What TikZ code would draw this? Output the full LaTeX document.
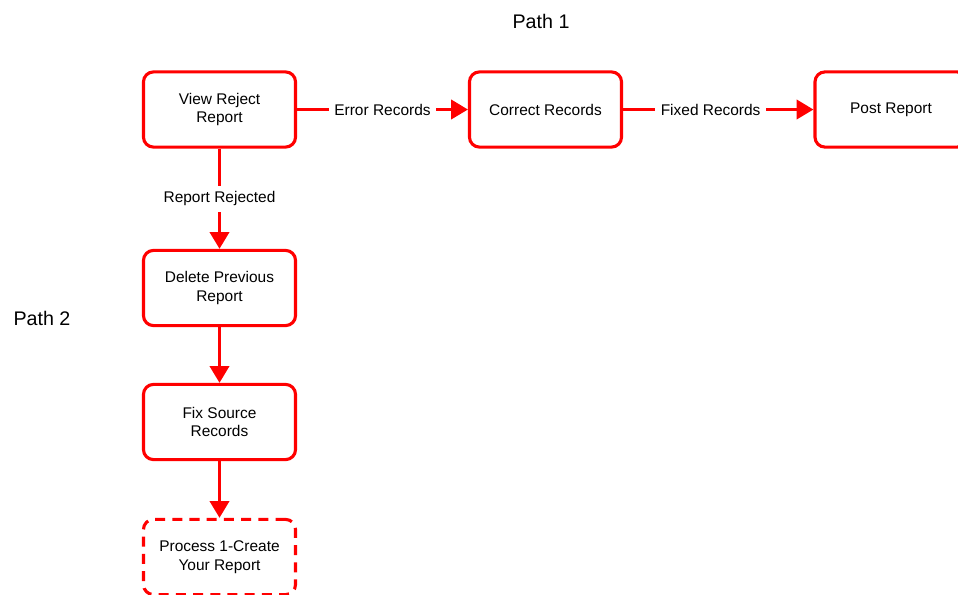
\documentclass[tikz,border=0pt]{standalone}
\usepackage{fontspec}
\setmainfont{Liberation Sans}
\usetikzlibrary{arrows.meta,positioning}

\tikzset{
  stepbox/.style={draw=red, line width=2.2pt, rounded corners=0.25cm, fill=white,
    minimum width=3.8cm, minimum height=1.88cm, align=center, text=black,
    font=\fontsize{11}{13.2}\selectfont},
  nextbox/.style={stepbox, dashed, dash pattern=on 0.25cm off 0.18cm},
  flow/.style={draw=red, line width=2.3pt, -{Triangle[length=0.42cm, width=0.48cm]}},
  flowlabel/.style={fill=white, inner sep=4pt, text=black,
    font=\fontsize{11}{13.2}\selectfont}
}

\begin{document}
\begin{tikzpicture}[x=0.025cm, y=-0.025cm]
  \useasboundingbox (0,0) rectangle (958,594);
  \clip (0,0) rectangle (958,594);

  % Path labels
  \node[font=\fontsize{14}{16}\selectfont] (path1) at (541,21) {Path 1};
  \node[font=\fontsize{14}{16}\selectfont] (path2) at (42,318) {Path 2};

  % Path 1
  \node[stepbox] (view) at (219.5,109.5) {View Reject\\Report};
  \node[stepbox] (correct) at (545.5,109.5) {Correct Records};
  \node[stepbox] (post) at (891,109.5) {Post Report};

  % Path 2
  \node[stepbox] (delete) at (219.5,288) {Delete Previous\\Report};
  \node[stepbox] (fix) at (219.5,422) {Fix Source\\Records};
  \node[nextbox] (process) at (219.5,557) {Process 1-Create\\Your Report};

  % Connectors
  \draw[flow] (view) -- node[flowlabel] {Error Records} (correct);
  \draw[flow] (correct) -- node[flowlabel, pos=0.46] {Fixed Records} (post);
  \draw[flow] (view) -- node[flowlabel] {Report Rejected} (delete);
  \draw[flow] (delete) -- (fix);
  \draw[flow] (fix) -- (process);
\end{tikzpicture}
\end{document}
